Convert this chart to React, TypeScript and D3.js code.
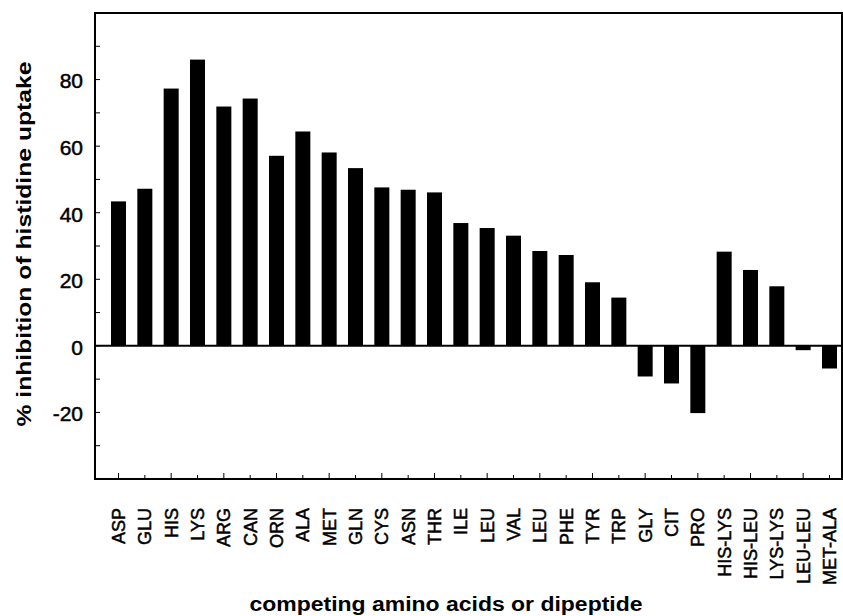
import React from "react";
import * as d3 from "d3";

const categories = [
  "ASP", "GLU", "HIS", "LYS", "ARG", "CAN", "ORN", "ALA", "MET", "GLN",
  "CYS", "ASN", "THR", "ILE", "LEU", "VAL", "LEU", "PHE", "TYR", "TRP",
  "GLY", "CIT", "PRO", "HIS-LYS", "HIS-LEU", "LYS-LYS", "LEU-LEU", "MET-ALA",
];
const inhibition = [
  43.4, 47.2, 77.3, 86.0, 71.9, 74.3, 57.1, 64.4, 58.1, 53.4,
  47.6, 46.9, 46.1, 36.9, 35.4, 33.1, 28.5, 27.3, 19.1, 14.5,
  -9.2, -11.3, -20.2, 28.3, 22.8, 17.9, -1.3, -6.8,
];
const yTickLabels = [-20, 0, 20, 40, 60, 80];
const yMinorTicks = [-30, -20, -10, 0, 10, 20, 30, 40, 50, 60, 70, 80, 90];
const yDomain = [-40, 100];
const xTitle = "competing amino acids or dipeptide";
const yTitle = "% inhibition of histidine uptake";

export default function App() {
  const W = 843, H = 616;
  const frame = { left: 95, top: 13, right: 842, bottom: 479 };
  const idx = categories.map((_, i) => String(i));
  const x = d3.scaleBand<string>().domain(idx).range([111, 837]).paddingInner(0.43).paddingOuter(0);
  const y = d3.scaleLinear().domain(yDomain).range([frame.bottom, frame.top]);
  const bw = x.bandwidth();
  const font = "Liberation Sans, Arial, Helvetica, sans-serif";

  return (
    <svg width={W} height={H} style={{ position: "absolute", left: 0, top: 0, background: "#fff" }}>
      <rect x={0} y={0} width={W} height={H} fill="#fff" />
      {/* bars */}
      {inhibition.map((v, i) => {
        const x0 = x(String(i))!;
        const y0 = y(Math.max(0, v));
        const h = Math.abs(y(v) - y(0));
        return <rect key={i} x={x0} y={y0} width={bw} height={h} fill="#000" />;
      })}
      {/* zero line */}
      <line x1={frame.left} x2={frame.right} y1={y(0)} y2={y(0)} stroke="#000" strokeWidth={2} />
      {/* frame */}
      <rect x={frame.left} y={frame.top} width={frame.right - frame.left} height={frame.bottom - frame.top}
        fill="none" stroke="#000" strokeWidth={2} />
      {/* y ticks */}
      {yMinorTicks.map((t) => (
        <line key={t} x1={frame.left} x2={frame.left + 5} y1={y(t)} y2={y(t)} stroke="#000" strokeWidth={1} />
      ))}
      {yTickLabels.map((t) => (
        <text key={t} x={83} y={y(t) + 1.5} dy="0.35em" textAnchor="end" fontFamily={font} fontSize={21}
          fill="#000" stroke="#000" strokeWidth={0.5}>
          {t}
        </text>
      ))}
      {/* x ticks */}
      {idx.map((k, i) => {
        const cx = x(k)! + bw / 2;
        return (
          <line key={k} x1={cx} x2={cx} y1={frame.bottom} y2={frame.bottom - (i % 2 === 0 ? 6 : 4)} stroke="#000" strokeWidth={1} />
        );
      })}
      {categories.map((c, i) => {
        const cx = x(String(i))! + bw / 2;
        return (
          <text key={i} transform={`translate(${cx},508) rotate(-90)`} textAnchor="end" dy="0.36em"
            fontFamily={font} fontSize={18} fill="#000" stroke="#000" strokeWidth={0.5}>
            {c}
          </text>
        );
      })}
      {/* axis titles */}
      <text x={446} y={611} textAnchor="middle" fontFamily={font} fontSize={20} fontWeight="bold"
        textLength={393} lengthAdjust="spacingAndGlyphs" fill="#000">
        {xTitle}
      </text>
      <text transform="translate(31,244) rotate(-90)" textAnchor="middle" fontFamily={font} fontSize={21}
        fontWeight="bold" textLength={365} lengthAdjust="spacingAndGlyphs" fill="#000">
        {yTitle}
      </text>
    </svg>
  );
}
